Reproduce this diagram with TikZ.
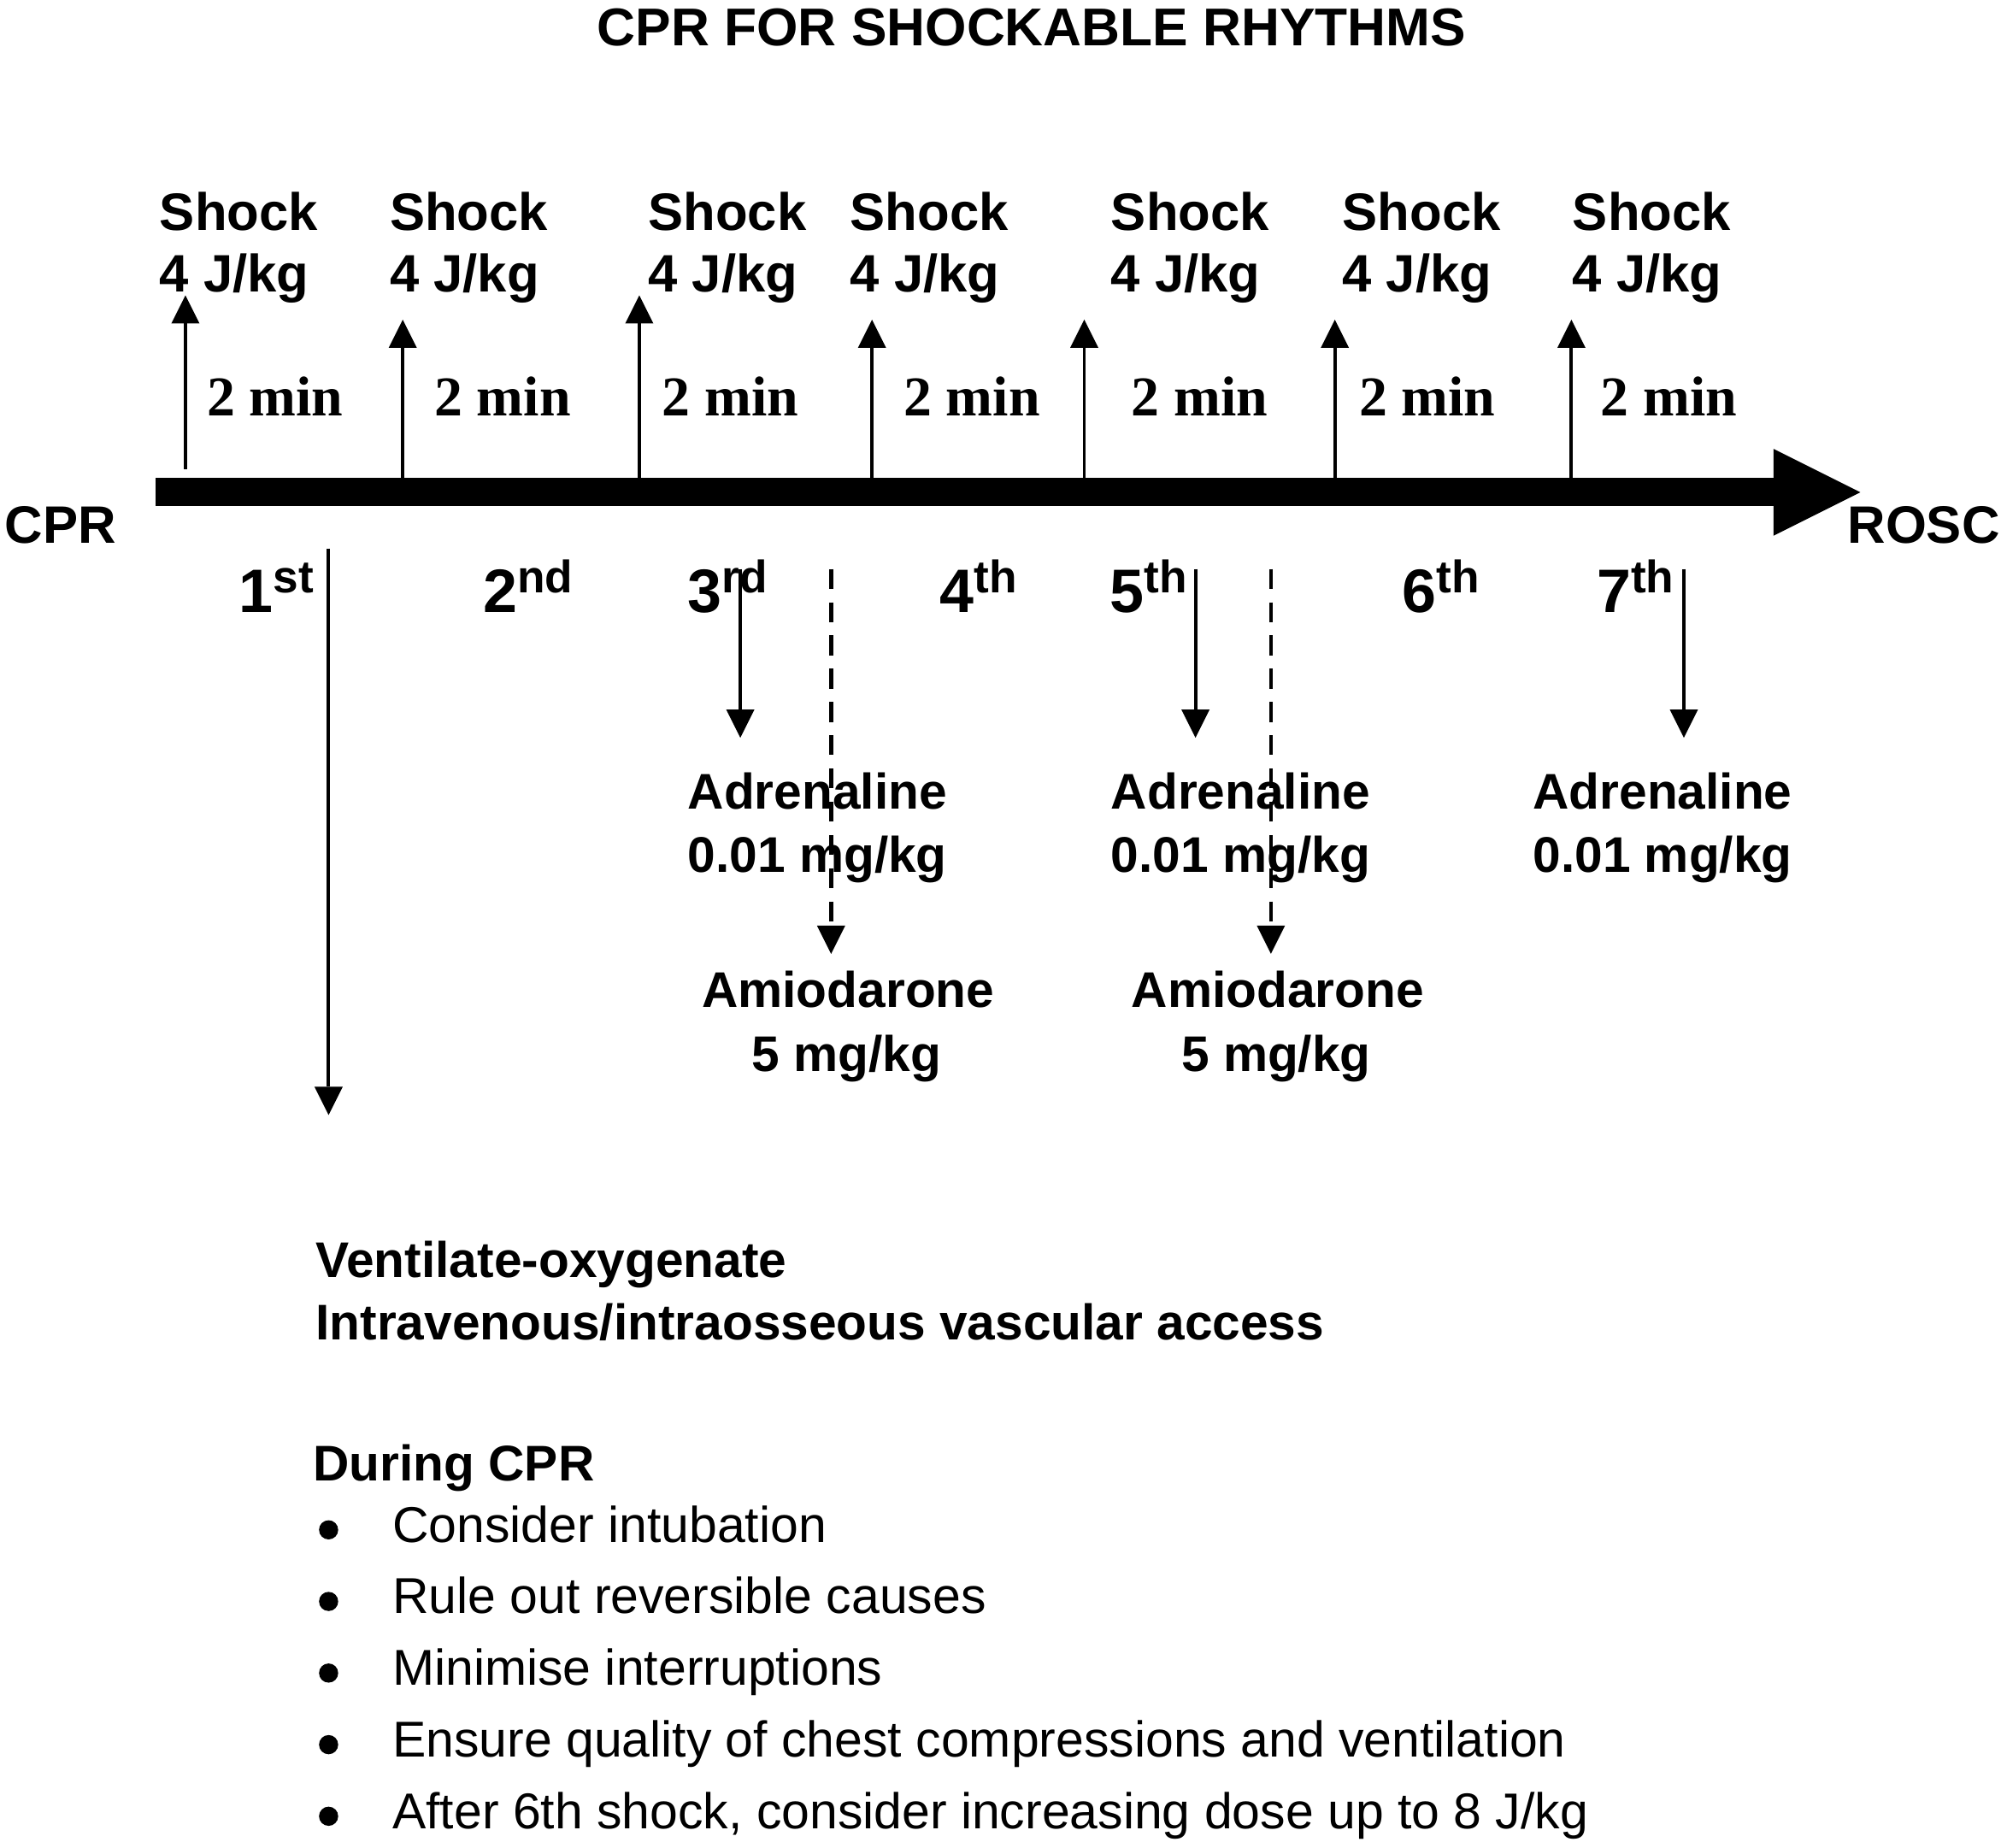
\documentclass[tikz,border=0pt]{standalone}
\usepackage{fontspec}
\setmainfont{Liberation Sans}
\newfontfamily\timesf{Liberation Serif}
\usetikzlibrary{arrows.meta}
\newcommand\myord[2]{#1\raisebox{7.75pt}{\fontsize{17.8}{18}\selectfont #2}}
\begin{document}
\begin{tikzpicture}[x=0.5pt,y=-0.5pt,
  every node/.style={inner sep=0pt, outer sep=0pt},
  hb/.style={anchor=base west, font=\fontsize{20.6}{24}\selectfont\bfseries},
  drug/.style={anchor=base west, font=\fontsize{19.6}{24}\selectfont\bfseries},
  mins/.style={anchor=base west, font=\timesf\fontsize{22}{24}\selectfont\bfseries},
  ordn/.style={anchor=base west, font=\fontsize{24}{28}\selectfont\bfseries},
  itm/.style={anchor=base west, font=\fontsize{19.7}{24}\selectfont},
  thinarr/.style={line width=1.3pt, -{Triangle[length=11pt,width=11pt,line width=0pt]}},
  dsharr/.style={line width=1.5pt, dash pattern=on 7.8pt off 5.2pt, -{Triangle[length=11pt,width=11pt,line width=0pt]}},
  bdot/.style={circle, fill=black, minimum size=7.5pt}]

\fill[white] (0,0) rectangle (1565,1445);
\useasboundingbox (0,0) rectangle (1565,1445);

% title
\node[anchor=base, font=\fontsize{20.8}{24}\selectfont\bfseries] (title) at (807,36) {CPR FOR SHOCKABLE RHYTHMS};

% shocks
\foreach \i/\x in {1/125,2/305,3/507,4/665,5/869,6/1050,7/1230} {
  \node[hb] (shock\i) at (\x,180) {Shock};
  \node[hb] (dose\i) at (\x,228) {4 J/kg};
}

% 2 min labels
\foreach \i/\x in {1/162,2/340,3/518,4/707,5/885,6/1063,7/1252} {
  \node[mins] (min\i) at (\x,325) {2 min};
}

% up arrows
\foreach \i/\x/\ya/\yt in {1/145/367/231,2/315/374/250,3/500/374/231,4/682/374/250,5/848/374/250,6/1044/374/250,7/1229/374/250} {
  \coordinate (ub\i) at (\x,\ya);
  \coordinate (ut\i) at (\x,\yt);
  \draw[thinarr] (ub\i) -- (ut\i);
}

% main bar
\coordinate (barstart) at (122,385);
\coordinate (barend) at (1455,385);
\draw[line width=11pt, -{Triangle[length=34pt,width=34pt,line width=0pt]}] (barstart) -- (barend);

\node[hb] (cpr) at (4,425) {CPR};
\node[hb] (rosc) at (1445,425) {ROSC};

% ordinals
\node[ordn] (o1) at (187,479) {\myord{1}{st}};
\node[ordn] (o2) at (378,479) {\myord{2}{nd}};
\node[ordn] (o3) at (538,479) {\myord{3}{rd}};
\node[ordn] (o4) at (735,479) {\myord{4}{th}};
\node[ordn] (o5) at (868,479) {\myord{5}{th}};
\node[ordn] (o6) at (1097,479) {\myord{6}{th}};
\node[ordn] (o7) at (1249,479) {\myord{7}{th}};

% down arrows
\coordinate (d1a) at (257,429); \coordinate (d1b) at (257,872);
\draw[thinarr] (d1a) -- (d1b);
\coordinate (d3a) at (579,445); \coordinate (d3b) at (579,577);
\draw[thinarr] (d3a) -- (d3b);
\coordinate (m3a) at (650,445); \coordinate (m3b) at (650,746);
\draw[dsharr] (m3a) -- (m3b);
\coordinate (d5a) at (935,445); \coordinate (d5b) at (935,577);
\draw[thinarr] (d5a) -- (d5b);
\coordinate (m5a) at (994,445); \coordinate (m5b) at (994,746);
\draw[dsharr] (m5a) -- (m5b);
\coordinate (d7a) at (1317,445); \coordinate (d7b) at (1317,577);
\draw[thinarr] (d7a) -- (d7b);

% drugs
\node[drug] (adr3) at (538,633) {Adrenaline};
\node[drug] (adr3d) at (538,682) {0.01 mg/kg};
\node[drug] (adr5) at (869,633) {Adrenaline};
\node[drug] (adr5d) at (869,682) {0.01 mg/kg};
\node[drug] (adr7) at (1199,633) {Adrenaline};
\node[drug] (adr7d) at (1199,682) {0.01 mg/kg};
\node[drug] (ami3) at (549,788) {Amiodarone};
\node[drug] (ami3d) at (588,838) {5 mg/kg};
\node[drug] (ami5) at (885,788) {Amiodarone};
\node[drug] (ami5d) at (924,838) {5 mg/kg};

% bottom text
\node[drug] (vent) at (247,999) {Ventilate-oxygenate};
\node[drug] (iv) at (247,1048) {Intravenous/intraosseous vascular access};
\node[drug] (during) at (245,1158) {During CPR};

\foreach \i/\y/\t in {1/1206/Consider intubation,2/1262/Rule out reversible causes,3/1318/Minimise interruptions,4/1374/Ensure quality of chest compressions and ventilation,5/1430/{After 6th shock, consider increasing dose up to 8 J/kg}} {
  \node[bdot] (b\i) at (257,\y-9.5) {};
  \node[itm] (it\i) at (307,\y) {\t};
}
\end{tikzpicture}
\end{document}
